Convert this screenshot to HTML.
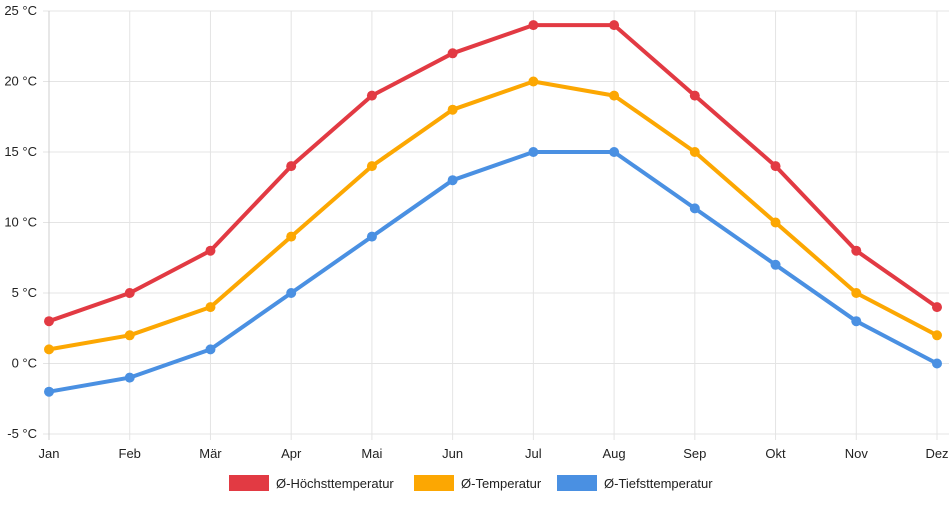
<!DOCTYPE html>
<html><head><meta charset="utf-8"><style>
body{margin:0;background:#fff;font-family:"Liberation Sans",sans-serif;}
svg text{font-family:"Liberation Sans",sans-serif;font-size:13px;fill:#222;}
</style></head><body>
<svg id="c" width="952" height="500"></svg>
<script>
const months=["Jan","Feb","Mär","Apr","Mai","Jun","Jul","Aug","Sep","Okt","Nov","Dez"];
const highT=[3,5,8,14,19,22,24,24,19,14,8,4];
const meanT=[1,2,4,9,14,18,20,19,15,10,5,2];
const lowT=[-2,-1,1,5,9,13,15,15,11,7,3,0];
const yTicks=[-5,0,5,10,15,20,25];
const seriesNames=["Ø-Höchsttemperatur","Ø-Temperatur","Ø-Tiefsttemperatur"];
const svg=document.getElementById('c');const NS="http://www.w3.org/2000/svg";
function mk(t,a,p){const e=document.createElementNS(NS,t);for(const k in a)e.setAttribute(k,a[k]);(p||svg).appendChild(e);return e;}
const x0=49,x1=937,yTop=11,yBot=434,vmin=-5,vmax=25;
const X=i=>x0+i*(x1-x0)/(months.length-1);
const Y=v=>yBot-(v-vmin)*(yBot-yTop)/(vmax-vmin);
const grid=mk('g',{});
yTicks.forEach(v=>{const l=mk('line',{x1:x0-6,x2:x1+12,y1:Y(v),y2:Y(v),stroke:'#e4e4e4'},grid);
const t=mk('text',{x:37,y:Y(v)+4,'text-anchor':'end'});t.textContent=v+' °C';
});
months.forEach((m,i)=>{mk('line',{x1:X(i),x2:X(i),y1:yTop,y2:yBot+6,stroke:'#e4e4e4'},grid);
const t=mk('text',{x:X(i),y:458,'text-anchor':'middle'});t.textContent=m;
});
mk('line',{x1:x0,x2:x0,y1:yTop,y2:yBot+6,stroke:'#cfcfcf'},grid);
const cols=["#e23a43","#fca702","#4a90e2"];
[highT,meanT,lowT].forEach((d,s)=>{
 const g=mk('g',{});
 mk('polyline',{points:d.map((v,i)=>X(i)+','+Y(v)).join(' '),fill:'none',stroke:cols[s],'stroke-width':4,'stroke-linejoin':'round'},g);
 d.forEach((v,i)=>{const c=mk('circle',{cx:X(i),cy:Y(v),r:5,fill:cols[s]},g);
 });
});
const lx=[229,414,557];
seriesNames.forEach((n,s)=>{const g=mk('g',{});
 mk('rect',{x:lx[s],y:475,width:40,height:16,fill:cols[s]},g);
 const t=mk('text',{x:lx[s]+47,y:488},g);t.textContent=n;});
</script></body></html>
